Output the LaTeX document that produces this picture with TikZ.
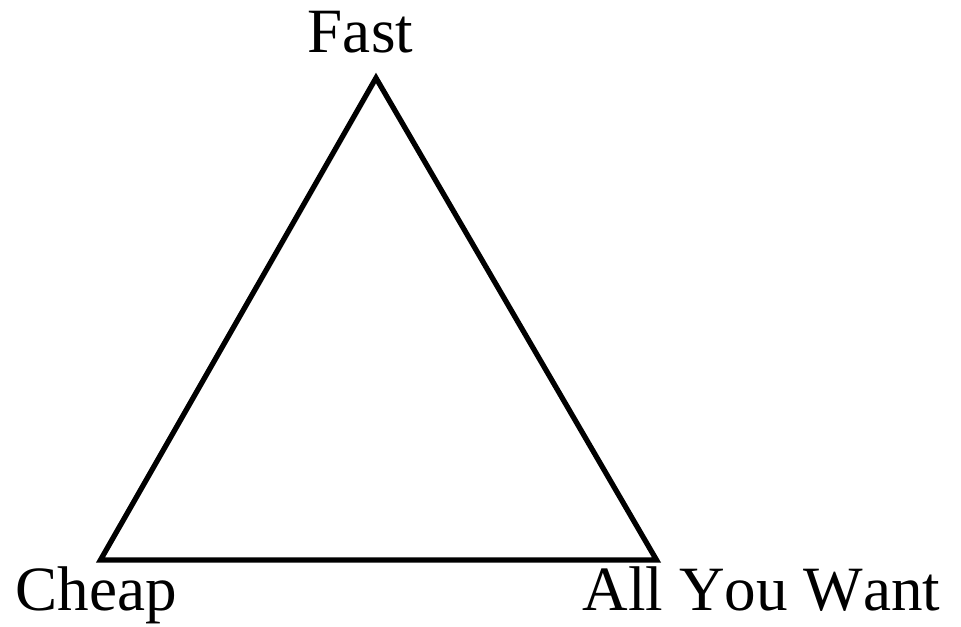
\documentclass[tikz,border=0pt]{standalone}
\usepackage{fontspec}
\setmainfont{Liberation Serif}[Kerning=Off]
\usepackage{tikz}
\usetikzlibrary{positioning}

\begin{document}
\begin{tikzpicture}[
  x=1cm,y=1cm,
  cornerlabel/.style={anchor=base,inner sep=0pt,
                      font=\fontsize{35.9}{40}\selectfont},
  sideline/.style={draw=black,line width=3pt,line join=miter}
]
\useasboundingbox (0,0) rectangle (19.22,12.54);
% triangle corners
\coordinate (cheap) at (2.01,1.34);
\coordinate (fast) at (7.52,10.98);
\coordinate (want) at (13.13,1.34);
\draw[sideline] (cheap) -- (fast) -- (want) -- cycle;
% labels
\node[cornerlabel] (fastlabel) at (7.21,11.48) {Fast};
\node[cornerlabel] (cheaplabel) at (1.93,0.32) {Cheap};
\node[cornerlabel] (wantlabel) at (15.23,0.32) {All You Want};
\end{tikzpicture}
\end{document}
